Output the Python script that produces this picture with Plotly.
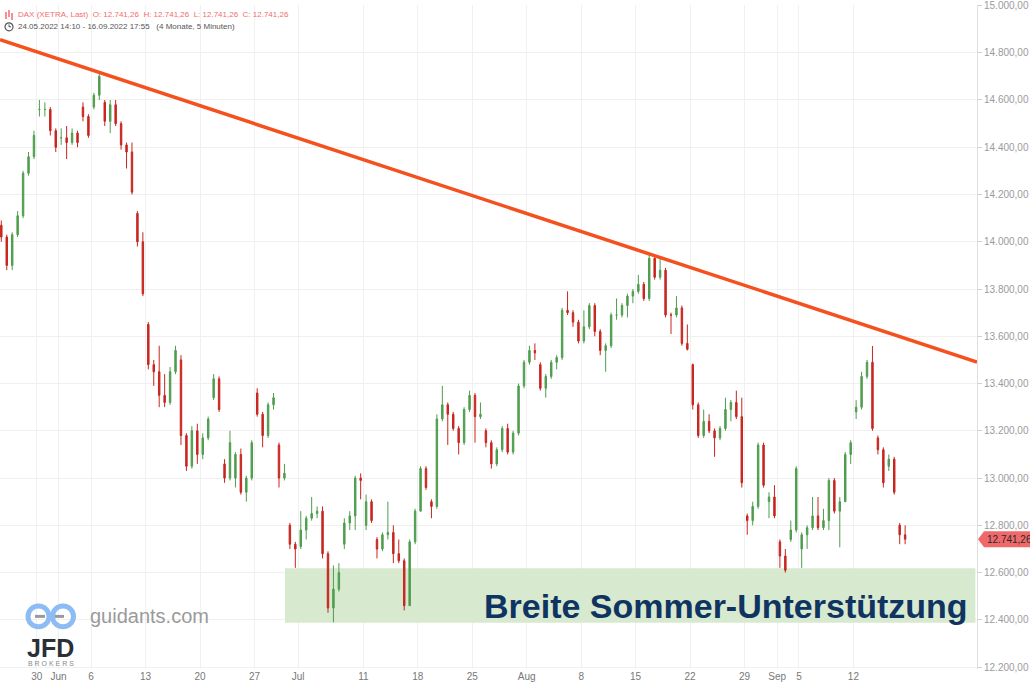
import plotly.graph_objects as go
import pandas as pd

# ---------------- data ----------------
# trading days shown (XETRA, 24 May 2022 afternoon .. 16 Sep 2022)
trading_days = [d.strftime("%Y-%m-%d") for d in pd.bdate_range("2022-05-24", "2022-09-16")]

# half-session candles (AM / PM), the first one is the afternoon of 24 May
opens = [
    14070, 14020, 13900, 14030, 14110, 14290, 14360, 14560, 14560, 14560,
    14470, 14440, 14440, 14420, 14460, 14570, 14530, 14570, 14620, 14590,
    14510, 14580, 14500, 14410, 14380, 14120, 14000, 13650, 13480, 13450,
    13350, 13320, 13450, 13500, 13180, 13050, 13200, 13100, 13170, 13340,
    13420, 13060, 13000, 13000, 13100, 12940, 13000, 13360, 13270, 13180,
    13310, 13140, 13000, 12800, 12720, 12710, 12780, 12830, 12850, 12860,
    12680, 12450, 12530, 12720, 12810, 12840, 13000, 12800, 12900, 12740,
    12700, 12760, 12770, 12680, 12650, 12460, 12730, 12860, 13040, 12900,
    12880, 13250, 13310, 13270, 13210, 13150, 13290, 13350, 13260, 13200,
    13150, 13060, 13120, 13210, 13110, 13190, 13390, 13490, 13540, 13480,
    13380, 13430, 13490, 13510, 13710, 13700, 13660, 13580, 13640, 13730,
    13620, 13540, 13560, 13690, 13690, 13730, 13770, 13790, 13820, 13760,
    13930, 13850, 13880, 13690, 13690, 13720, 13570, 13480, 13310, 13180,
    13240, 13200, 13170, 13210, 13290, 13320, 13260, 12840, 12820, 12880,
    13140, 12900, 12920, 12730, 12670, 12740, 12780, 12700, 12760, 12790,
    12840, 12790, 12820, 12990, 12860, 12900, 13100, 13280, 13300, 13430,
    13490, 13170, 13120, 13050, 13080, 12800, 12760,
]
highs = [
    14090, 14030, 14040, 14130, 14300, 14380, 14470, 14600, 14590, 14570,
    14480, 14480, 14490, 14480, 14470, 14590, 14540, 14630, 14716, 14600,
    14600, 14600, 14510, 14420, 14420, 14130, 14040, 13660, 13500, 13560,
    13440, 13470, 13560, 13520, 13190, 13220, 13230, 13190, 13260, 13440,
    13430, 13080, 13200, 13110, 13125, 13010, 13160, 13380, 13280, 13320,
    13360, 13150, 13060, 12810, 12730, 12860, 12840, 12920, 12880, 12880,
    12690, 12630, 12640, 12830, 12860, 13010, 13020, 12930, 12910, 12750,
    12770, 12900, 12800, 12740, 12660, 12740, 12870, 13050, 13050, 12910,
    13270, 13390, 13320, 13280, 13220, 13300, 13370, 13360, 13320, 13210,
    13160, 13130, 13220, 13230, 13200, 13400, 13500, 13560, 13570, 13490,
    13440, 13500, 13520, 13720, 13790, 13710, 13670, 13710, 13740, 13740,
    13630, 13570, 13700, 13760, 13740, 13780, 13800, 13860, 13830, 13944,
    13935, 13935, 13890, 13700, 13770, 13730, 13650, 13485, 13320, 13290,
    13270, 13210, 13220, 13340, 13330, 13370, 13340, 12850, 12900, 13150,
    13150, 12940, 12970, 12740, 12700, 12820, 13050, 12770, 12800, 12920,
    12920, 12870, 13000, 13000, 12920, 13110, 13160, 13330, 13450, 13500,
    13559, 13180, 13130, 13100, 13090, 12810, 12800,
]
lows = [
    14000, 13880, 13880, 14020, 14100, 14280, 14350, 14530, 14530, 14450,
    14380, 14410, 14350, 14410, 14400, 14510, 14440, 14560, 14600, 14490,
    14460, 14490, 14390, 14310, 14200, 13980, 13770, 13460, 13390, 13300,
    13300, 13310, 13440, 13140, 13030, 13040, 13060, 13080, 13160, 13330,
    13280, 12980, 12990, 12960, 12930, 12900, 12990, 13260, 13130, 13170,
    13290, 12960, 12990, 12700, 12620, 12700, 12740, 12820, 12830, 12660,
    12430, 12390, 12520, 12700, 12780, 12780, 12910, 12780, 12810, 12660,
    12690, 12740, 12640, 12640, 12440, 12460, 12720, 12860, 12950, 12830,
    12870, 13240, 13140, 13200, 13100, 13140, 13280, 13150, 13250, 13130,
    13040, 13050, 13110, 13100, 13100, 13180, 13380, 13480, 13500, 13370,
    13340, 13420, 13460, 13500, 13690, 13640, 13570, 13570, 13630, 13600,
    13520, 13450, 13550, 13670, 13680, 13680, 13740, 13780, 13750, 13750,
    13840, 13840, 13680, 13610, 13680, 13560, 13540, 13290, 13170, 13170,
    13190, 13090, 13160, 13200, 13240, 13250, 12960, 12760, 12800, 12870,
    12960, 12830, 12830, 12620, 12600, 12730, 12770, 12620, 12700, 12780,
    12780, 12780, 12780, 12850, 12707, 12900, 13060, 13250, 13290, 13420,
    13200, 13100, 12960, 13030, 12930, 12720, 12720,
]
closes = [
    14020, 13900, 14030, 14110, 14290, 14360, 14450, 14560, 14560, 14470,
    14400, 14440, 14420, 14460, 14420, 14530, 14450, 14620, 14700, 14510,
    14580, 14500, 14410, 14380, 14210, 14000, 13780, 13480, 13450, 13350,
    13320, 13450, 13540, 13180, 13050, 13200, 13100, 13170, 13250, 13420,
    13290, 13000, 13150, 13100, 12940, 13000, 13150, 13270, 13180, 13310,
    13340, 13000, 13020, 12720, 12700, 12780, 12830, 12850, 12860, 12680,
    12450, 12530, 12600, 12810, 12840, 13000, 12990, 12900, 12820, 12700,
    12760, 12770, 12680, 12650, 12460, 12730, 12860, 13040, 12960, 12880,
    13250, 13310, 13270, 13210, 13150, 13290, 13350, 13260, 13270, 13150,
    13060, 13120, 13210, 13110, 13190, 13390, 13490, 13540, 13530, 13380,
    13430, 13490, 13510, 13710, 13700, 13660, 13580, 13640, 13730, 13620,
    13540, 13560, 13690, 13690, 13730, 13770, 13790, 13820, 13760, 13930,
    13850, 13880, 13690, 13690, 13720, 13570, 13545, 13310, 13180, 13240,
    13200, 13170, 13210, 13290, 13320, 13260, 12980, 12820, 12880, 13140,
    12970, 12920, 12840, 12670, 12610, 12780, 13040, 12760, 12790, 12840,
    12790, 12820, 12990, 12860, 12900, 13100, 13150, 13300, 13430, 13490,
    13210, 13120, 12980, 13080, 12940, 12760, 12741.26,
]
assert len(opens) == len(highs) == len(lows) == len(closes) == 167

tick_dates = ["2022-05-30", "2022-06-01", "2022-06-06", "2022-06-13", "2022-06-20",
              "2022-06-27", "2022-07-01", "2022-07-11", "2022-07-18", "2022-07-25",
              "2022-08-01", "2022-08-08", "2022-08-15", "2022-08-22", "2022-08-29",
              "2022-09-01", "2022-09-05", "2022-09-12"]
tick_labels = ["30", "Jun", "6", "13", "20", "27", "Jul", "11", "18", "25",
               "Aug", "8", "15", "22", "29", "Sep", "5", "12"]

# falling resistance line (start / end of the drawn line)
trend_days = [0.63, 90.35]
trend_prices = [14855, 13491]

# "Breite Sommer-Unterstützung" zone
zone_start_day = 26.8
zone_end_day = 90.2
zone_low = 12388
zone_high = 12618
zone_label = "Breite Sommer-Unterstützung"

header_title = "DAX (XETRA, Last)"
header_period = "24.05.2022 14:10 - 16.09.2022 17:55"
header_span = "(4 Monate, 5 Minuten)"

# ---------------- helpers ----------------
def de(v):
    s = f"{v:,.2f}"
    return s.replace(",", "X").replace(".", ",").replace("X", ".")

# candle positions on a trading-day axis (weekends removed)
sessions = []
for i, d in enumerate(trading_days):
    for half, off in (("AM", 0.25), ("PM", 0.75)):
        if i == 0 and half == "AM":
            continue
        sessions.append(i + off)
x_pos = sessions[:len(closes)]
tick_pos = [trading_days.index(d) for d in tick_dates]

FONT = "Liberation Sans, Arial, sans-serif"
PW, PH = 977, 669          # plot area size in px
def px(x):
    return x / PW
def py(y):
    return 1 - y / PH

last = closes[-1]
fig = go.Figure()

fig.add_trace(go.Candlestick(
    x=x_pos, open=opens, high=highs, low=lows, close=closes,
    increasing=dict(line=dict(color="#4f9d4f", width=1), fillcolor="#4f9d4f"),
    decreasing=dict(line=dict(color="#c7261f", width=1), fillcolor="#c7261f"),
    whiskerwidth=0, showlegend=False, hoverinfo="skip",
))

fig.add_trace(go.Scatter(
    x=trend_days, y=trend_prices, mode="lines",
    line=dict(color="#f4511e", width=3.5), showlegend=False, hoverinfo="skip",
))

shapes = []
# support zone
shapes.append(dict(type="rect", xref="x", yref="y", x0=zone_start_day, x1=zone_end_day,
                   y0=zone_low, y1=zone_high, fillcolor="#d7e9cf", line=dict(width=0),
                   layer="between"))

# price tag on the right axis
hh = 8 / 0.2381
tag_path = (f"M {px(978)},{last} L {px(984)},{last + hh} L {px(1030)},{last + hh} "
            f"L {px(1030)},{last - hh} L {px(984)},{last - hh} Z")
shapes.append(dict(type="path", xref="paper", yref="y", path=tag_path,
                   fillcolor="#f0696a", line=dict(width=0), layer="above"))

# header icons
for xx, y0, y1 in ((6, 7, 14), (9, 5, 12), (12, 8, 15)):
    shapes.append(dict(type="line", xref="paper", yref="paper", x0=px(xx), x1=px(xx),
                       y0=py(y0), y1=py(y1), line=dict(color="#f26d6d", width=1.5)))
shapes.append(dict(type="circle", xref="paper", yref="paper", x0=px(5), x1=px(13),
                   y0=py(26), y1=py(18), line=dict(color="#555555", width=1.2)))
shapes.append(dict(type="line", xref="paper", yref="paper", x0=px(9), x1=px(9),
                   y0=py(22), y1=py(19.5), line=dict(color="#555555", width=1)))
shapes.append(dict(type="line", xref="paper", yref="paper", x0=px(9), x1=px(11),
                   y0=py(22), y1=py(22), line=dict(color="#555555", width=1)))

# guidants logo
for cx in (38.5, 63):
    shapes.append(dict(type="circle", xref="paper", yref="paper", x0=px(cx - 10.5),
                       x1=px(cx + 10.5), y0=py(626.5), y1=py(605.5),
                       line=dict(color="#8dbcf4", width=5)))
for x0, x1 in ((35, 45), (55, 64)):
    shapes.append(dict(type="line", xref="paper", yref="paper", x0=px(x0), x1=px(x1),
                       y0=py(616), y1=py(616), line=dict(color="#9a9a9a", width=3)))

annotations = []
annotations.append(dict(
    xref="paper", yref="paper", x=px(16), y=py(10), xanchor="left", yanchor="middle",
    showarrow=False, font=dict(family=FONT, size=8, color="#f26d6d"),
    text=(f"{header_title}\u00a0\u00a0O: {de(last)}\u00a0\u00a0H: {de(last)}"
          f"\u00a0\u00a0L: {de(last)}\u00a0\u00a0C: {de(last)}")))
annotations.append(dict(
    xref="paper", yref="paper", x=px(16), y=py(22), xanchor="left", yanchor="middle",
    showarrow=False, font=dict(family=FONT, size=8, color="#555555"),
    text=f"{header_period}\u00a0\u00a0\u00a0{header_span}"))
annotations.append(dict(
    xref="paper", yref="y", x=px(985), y=last, xanchor="left", yanchor="middle",
    showarrow=False, font=dict(family=FONT, size=10, color="#2a2a2a"), text=de(last)))
annotations.append(dict(
    xref="paper", yref="y", x=px(970), y=12458, xanchor="right", yanchor="middle",
    showarrow=False, font=dict(family=FONT, size=34, color="#0f3462"),
    text=f"<b>{zone_label}</b>"))
annotations.append(dict(
    xref="paper", yref="paper", x=px(88), y=py(616), xanchor="left", yanchor="middle",
    showarrow=False, font=dict(family=FONT, size=20, color="#9a9a9a"), text="guidants.com"))
annotations.append(dict(
    xref="paper", yref="paper", x=px(25), y=py(648), xanchor="left", yanchor="middle",
    showarrow=False, font=dict(family=FONT, size=25, color="#2b2f36"), text="<b>JFD</b>"))
annotations.append(dict(
    xref="paper", yref="paper", x=px(26), y=py(663), xanchor="left", yanchor="middle",
    showarrow=False, font=dict(family=FONT, size=7, color="#8a8a8a"), text="B R O K E R S"))

fig.update_layout(
    width=1030, height=683,
    margin=dict(l=0, r=53, t=0, b=14),
    paper_bgcolor="white", plot_bgcolor="white",
    separators=",.",
    boxgap=0.62,
    font=dict(family=FONT, size=10, color="#777777"),
    shapes=shapes, annotations=annotations,
    showlegend=False,
    xaxis=dict(
        range=[0.63, 90.35], tickmode="array", tickvals=tick_pos, ticktext=tick_labels,
        showgrid=True, gridcolor="#f0f0f0", gridwidth=1, zeroline=False, showline=False,
        ticks="", tickfont=dict(family=FONT, size=10, color="#777777"),
        rangeslider=dict(visible=False), fixedrange=True,
    ),
    yaxis=dict(
        side="right", range=[12192, 15002], tick0=12200, dtick=200, tickformat=",.2f",
        showgrid=True, gridcolor="#f0f0f0", gridwidth=1, zeroline=False,
        showline=True, linecolor="#dedede", linewidth=1,
        ticks="outside", ticklen=4, tickcolor="#d0d0d0", ticklabeloverflow="allow",
        tickfont=dict(family=FONT, size=10, color="#9b9b9b"), fixedrange=True,
    ),
)

fig.write_html(
    "out.html",
    config={"displayModeBar": False},
    post_script="document.body.style.margin='0';document.body.style.overflow='hidden';",
)
